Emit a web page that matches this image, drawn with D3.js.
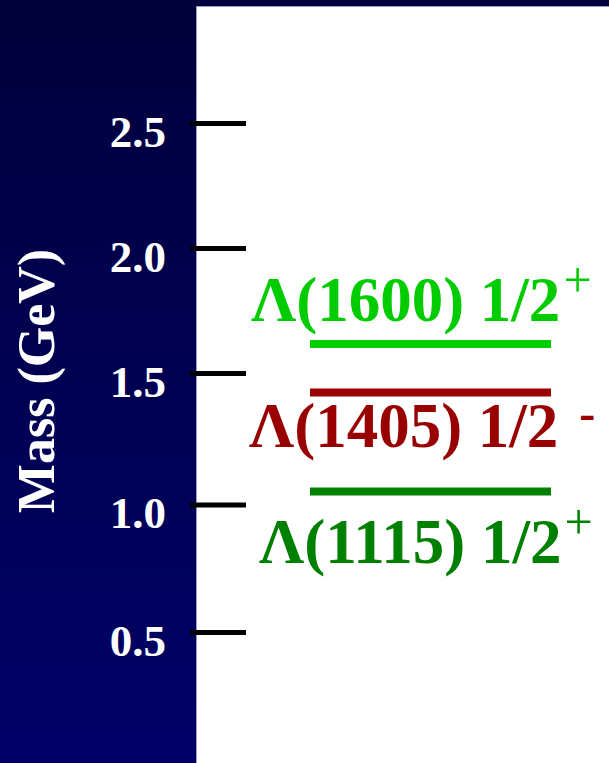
<!DOCTYPE html>
<html>
<head>
<meta charset="utf-8">
<script src="https://cdn.jsdelivr.net/npm/d3@7"></script>
<style>
  html, body { margin: 0; padding: 0; background: #000040; }
  svg { display: block; }
</style>
</head>
<body>
<svg id="chart" width="609" height="763"></svg>
<script>
// ---- data ----
const tickValues = [0.5, 1.0, 1.5, 2.0, 2.5];
const stateNames = ["Λ(1600) 1/2", "Λ(1405) 1/2 ", "Λ(1115) 1/2"];
const stateParity = ["+", "-", "+"];
const stateMass = [1.616, 1.426, 1.049];
const axisTitle = "Mass (GeV)";

// ---- layout / style (not data) ----
const W = 609, H = 763;
const colors = ["#00cc00", "#990000", "#008000"];
const labelLayout = [ { x: 251, dy: -23 }, { x: 249, dy: 55 }, { x: 259, dy: 71 } ];
const serif = "'Liberation Serif', 'Times New Roman', serif";

const svg = d3.select("#chart");

const defs = svg.append("defs");
const grad = defs.append("linearGradient").attr("id", "bg").attr("x1", 0).attr("y1", 0).attr("x2", 0).attr("y2", 1);
grad.append("stop").attr("offset", "0%").attr("stop-color", "#00003c");
grad.append("stop").attr("offset", "100%").attr("stop-color", "#000068");

svg.append("rect").attr("width", W).attr("height", H).attr("fill", "url(#bg)");
svg.append("rect")
  .attr("x", 196.5).attr("y", 6.5).attr("width", W - 196).attr("height", H)
  .attr("fill", "#ffffff").attr("stroke", "#9a9acc").attr("stroke-width", 1);

// polylinear scale following the drawn tick positions
const y = d3.scaleLinear().domain(tickValues).range([632, 504.5, 373, 248, 123]);

const axis = d3.axisLeft(y).tickValues(tickValues).tickFormat(d3.format(".1f"))
  .tickSize(56).tickPadding(24);
const gAxis = svg.append("g").attr("transform", "translate(246,0)").call(axis);
gAxis.select(".domain").remove();
gAxis.selectAll(".tick line").attr("stroke", "#000").attr("stroke-width", 5);
gAxis.selectAll(".tick text")
  .attr("fill", "#fff").attr("dy", 23)
  .style("font-family", serif).style("font-weight", "bold").style("font-size", "45px");

svg.append("text")
  .attr("transform", "translate(54,381) rotate(-90)")
  .attr("text-anchor", "middle")
  .attr("fill", "#fff")
  .style("font-family", serif).style("font-weight", "bold").style("font-size", "52px")
  .text(axisTitle);

// level lines
svg.selectAll("line.level").data(stateMass).join("line")
  .attr("class", "level")
  .attr("x1", 310).attr("x2", 551)
  .attr("y1", d => y(d)).attr("y2", d => y(d))
  .attr("stroke", (d, i) => colors[i]).attr("stroke-width", 8);

// labels
const labels = svg.selectAll("text.lab").data(stateMass).join("text")
  .attr("class", "lab")
  .attr("x", (d, i) => labelLayout[i].x)
  .attr("y", (d, i) => y(d) + labelLayout[i].dy)
  .attr("fill", (d, i) => colors[i])
  .style("font-family", serif).style("font-weight", "bold").style("font-size", "63px");
labels.append("tspan").text((d, i) => stateNames[i]);
labels.append("tspan")
  .attr("dx", (d, i) => stateParity[i] === "+" ? 3 : 5)
  .attr("dy", (d, i) => stateParity[i] === "+" ? -24 : -18)
  .style("font-size", (d, i) => stateParity[i] === "+" ? "50px" : "48px")
  .style("font-weight", (d, i) => stateParity[i] === "+" ? "normal" : "bold")
  .text((d, i) => stateParity[i]);
</script>
</body>
</html>
